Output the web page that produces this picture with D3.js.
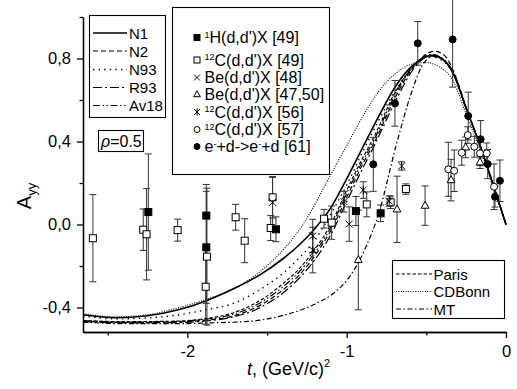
<!DOCTYPE html>
<html><head><meta charset="utf-8">
<script src="https://cdn.jsdelivr.net/npm/d3@7"></script>
<style>body{margin:0;background:#fff}svg{display:block}text{font-family:"Liberation Sans",Arial,sans-serif;fill:#000}</style>
</head><body><svg id="c" width="517" height="389"></svg>
<script>
// ---------- data ----------
const xMajorTicks=[-2,-1,0];
const xMinorTicks=[-2.5,-1.5,-0.5];
const yMajorTicks=[-0.4,0,0.4,0.8];
const yMinorTicks=[-0.2,0.2,0.6,1.0];

const modelNames=["N1","N2","N93","R93","Av18"];
const potentialNames=["Paris","CDBonn","MT"];
const rhoLabel="0.5";

const curveN1=[[-2.655,-0.435],[-2.45,-0.449],[-2.25,-0.44],[-2.05,-0.41],[-1.88,-0.367],[-1.71,-0.31],[-1.55,-0.245],[-1.4,-0.165],[-1.3,-0.1],[-1.2,-0.02],[-1.1,0.08],[-1.0,0.22],[-0.9,0.37],[-0.8,0.52],[-0.69,0.67],[-0.58,0.77],[-0.46,0.815],[-0.38,0.785],[-0.33,0.725],[-0.25,0.56],[-0.16,0.375],[-0.08,0.19],[0,0]];
const curveN2=[[-2.655,-0.466],[-2.4,-0.472],[-2.1,-0.47],[-1.9,-0.462],[-1.71,-0.44],[-1.6,-0.41],[-1.5,-0.37],[-1.4,-0.315],[-1.3,-0.245],[-1.2,-0.15],[-1.1,-0.03],[-1.0,0.13],[-0.9,0.29],[-0.83,0.39],[-0.69,0.62],[-0.58,0.76],[-0.45,0.835],[-0.38,0.81],[-0.33,0.74],[-0.25,0.565],[-0.16,0.375],[-0.08,0.19],[0,0]];
const curveN93=[[-2.655,-0.44],[-2.45,-0.455],[-2.25,-0.45],[-2.05,-0.435],[-1.88,-0.41],[-1.71,-0.38],[-1.55,-0.316],[-1.4,-0.235],[-1.3,-0.163],[-1.2,-0.075],[-1.1,0.05],[-1.0,0.19],[-0.9,0.35],[-0.8,0.5],[-0.69,0.65],[-0.58,0.76],[-0.48,0.81],[-0.4,0.79],[-0.33,0.725],[-0.25,0.56],[-0.16,0.375],[-0.08,0.19],[0,0]];
const curveR93=[[-2.655,-0.468],[-2.4,-0.474],[-2.1,-0.473],[-1.9,-0.466],[-1.71,-0.445],[-1.6,-0.42],[-1.5,-0.382],[-1.4,-0.33],[-1.3,-0.26],[-1.2,-0.17],[-1.1,-0.05],[-1.0,0.11],[-0.9,0.27],[-0.83,0.375],[-0.69,0.6],[-0.58,0.75],[-0.47,0.815],[-0.4,0.8],[-0.33,0.73],[-0.25,0.56],[-0.16,0.375],[-0.08,0.19],[0,0]];
const curveAv18=[[-2.655,-0.464],[-2.4,-0.47],[-2.1,-0.468],[-1.9,-0.458],[-1.71,-0.432],[-1.6,-0.4],[-1.5,-0.357],[-1.4,-0.3],[-1.3,-0.23],[-1.2,-0.135],[-1.1,-0.015],[-1.0,0.15],[-0.9,0.305],[-0.83,0.405],[-0.69,0.635],[-0.58,0.765],[-0.47,0.82],[-0.4,0.8],[-0.33,0.73],[-0.25,0.56],[-0.16,0.375],[-0.08,0.19],[0,0]];
const curveParis=[[-2.655,-0.462],[-2.4,-0.468],[-2.1,-0.466],[-1.9,-0.455],[-1.71,-0.425],[-1.6,-0.39],[-1.5,-0.345],[-1.4,-0.285],[-1.3,-0.215],[-1.2,-0.12],[-1.1,0.0],[-1.0,0.165],[-0.9,0.32],[-0.83,0.42],[-0.69,0.645],[-0.58,0.765],[-0.48,0.815],[-0.4,0.795],[-0.33,0.73],[-0.25,0.56],[-0.16,0.375],[-0.08,0.19],[0,0]];
const curveCDBonn=[[-2.655,-0.43],[-2.45,-0.445],[-2.25,-0.435],[-2.05,-0.4],[-1.88,-0.36],[-1.71,-0.31],[-1.48,-0.185],[-1.27,0.005],[-1.1,0.24],[-1.0,0.38],[-0.9,0.52],[-0.8,0.64],[-0.69,0.73],[-0.58,0.775],[-0.5,0.78],[-0.42,0.76],[-0.33,0.69],[-0.25,0.53],[-0.16,0.355],[-0.08,0.18],[0,0]];
const curveMT=[[-2.655,-0.47],[-2.4,-0.478],[-2.1,-0.478],[-1.85,-0.474],[-1.6,-0.466],[-1.4,-0.438],[-1.19,-0.38],[-1.08,-0.33],[-0.98,-0.25],[-0.88,-0.11],[-0.8,0.05],[-0.69,0.38],[-0.6,0.62],[-0.53,0.76],[-0.46,0.81],[-0.4,0.795],[-0.33,0.73],[-0.25,0.56],[-0.16,0.375],[-0.08,0.19],[0,0]];

// points: [t, Ayy, error]
const dataH49=[[-2.245,0.06,0.28],[-1.881,0.043,0.15],[-1.881,-0.11,0.27],[-1.444,-0.023,0.06],[-0.942,0.065,0.07],[-0.787,0.054,0.04]];
const dataC49=[[-2.593,-0.066,0.21],[-2.277,-0.025,0.10],[-2.256,-0.047,0.22],[-2.061,-0.027,0.053],[-1.877,-0.155,0.33],[-1.885,-0.30,0.18],[-1.697,0.035,0.062],[-1.640,-0.078,0.106],[-1.465,0.131,0.10],[-1.477,-0.017,0.06],[-1.142,0.028,0.045],[-1.094,0.009,0.08],[-0.874,0.097,0.06],[-0.724,0.107,0.03],[-0.628,0.171,0.025]];
const dataBe48=[[-1.465,0.107,0.12],[-0.984,0.002,0.083]];
const dataBe4750=[[-0.684,0.073,0.16],[-0.508,0.091,0.095],[-0.927,-0.171,0.24],[-0.345,0.214,0.10],[-0.253,0.372,0.05],[-0.163,0.30,0.03]];
const dataC56=[[-0.655,0.282,0.02],[-0.733,0.113,0.025],[-0.896,0.166,0.04],[-1.017,0.11,0.05],[-1.213,-0.055,0.08],[-1.213,-0.123,0.11]];
const dataC57=[[-0.362,0.266,0.13],[-0.325,0.259,0.10],[-0.278,0.346,0.06],[-0.240,0.431,0.04],[-0.199,0.375,0.05],[-0.163,0.343,0.06],[-0.121,0.343,0.05],[-0.075,0.182,0.11]];
const dataE61=[[-0.554,0.873,0.105],[-0.335,0.892,0.23],[-0.697,0.584,0.11],[-0.833,0.29,0.13],[-0.237,0.523,0.115],[-0.159,0.411,0.09],[-0.115,0.291,0.07],[-0.038,0.211,0.10],[-0.069,0.134,0.05]];

const legendLabels=[
 [["1",1],["H(d,d')X [49]",0]],
 [["12",1],["C(d,d')X [49]",0]],
 [["Be(d,d')X [48]",0]],
 [["Be(d,d')X [47,50]",0]],
 [["12",1],["C(d,d')X [56]",0]],
 [["12",1],["C(d,d')X [57]",0]],
 [["e",0],["-",1],["+d->e",0],["-",1],["+d [61]",0]]
];

// ---------- chart ----------
const svg=d3.select("#c");
const L=83,R=506,T=17,B=332;
const x=d3.scaleLinear().domain([-2.655,0]).range([L,R]);
const y=d3.scaleLinear().domain([-0.518,1.0]).range([B,T]);

svg.append("defs").append("clipPath").attr("id","clip").append("rect").attr("x",L).attr("y",T-2).attr("width",R-L+2).attr("height",B-T+2);

const styles={
 N1:{dash:null,w:1.6},
 N2:{dash:"5,3",w:1.2},
 N93:{dash:"1.4,4.2",w:1.4},
 R93:{dash:"9,3,2,3",w:1.2},
 Av18:{dash:"7,2.5,1.5,2.5,1.5,2.5",w:1.2},
 Paris:{dash:"3.5,2",w:1.1},
 CDBonn:{dash:"1,1.4",w:1.1},
 MT:{dash:"5,2.5,1.5,2.5",w:1.2}
};
const curves=[["CDBonn",curveCDBonn],["N93",curveN93],["MT",curveMT],["R93",curveR93],["Av18",curveAv18],["Paris",curveParis],["N2",curveN2],["N1",curveN1]];
const line=d3.line().x(d=>x(d[0])).y(d=>y(d[1])).curve(d3.curveMonotoneX);
const gc=svg.append("g").attr("clip-path","url(#clip)");
curves.forEach(([n,data])=>{
  gc.append("path").attr("d",line(data)).attr("fill","none").attr("stroke","#000")
   .attr("stroke-width",styles[n].w).attr("stroke-dasharray",styles[n].dash);
});

// axes
const fmtX=d=>d===0?"0":String(d);
const fmtY=d=>d.toFixed(1).replace(".",",").replace("−","-");
svg.append("g").attr("transform",`translate(0,${B})`)
  .call(d3.axisBottom(x).tickValues(xMajorTicks).tickSize(6).tickSizeOuter(0).tickPadding(7).tickFormat(fmtX));
svg.append("g").attr("transform",`translate(0,${B})`)
  .call(d3.axisBottom(x).tickValues(xMinorTicks).tickSize(3.5).tickSizeOuter(0).tickFormat(""));
svg.append("g").attr("transform",`translate(${L},0)`)
  .call(d3.axisLeft(y).tickValues(yMajorTicks).tickSize(6).tickSizeOuter(0).tickPadding(6).tickFormat(fmtY));
svg.append("g").attr("transform",`translate(${L},0)`)
  .call(d3.axisLeft(y).tickValues(yMinorTicks).tickSize(3.5).tickSizeOuter(0).tickFormat(""));
svg.selectAll(".domain,.tick line").attr("stroke","#000").attr("stroke-width",1.3);
svg.selectAll(".tick text").style("font-size","16.5px").style("font-family","'Liberation Sans',Arial,sans-serif").attr("fill","#000");

// axis labels
const yl=svg.append("text").attr("transform","translate(31,196) rotate(-90)").attr("text-anchor","middle").style("font-size","20px");
yl.append("tspan").text("A");
yl.append("tspan").text("yy").style("font-size","13px").attr("dy",5);
const xl=svg.append("text").attr("x",247).attr("y",375).style("font-size","18px");
xl.append("tspan").text("t").style("font-style","italic");
xl.append("tspan").text(", (GeV/c)");
xl.append("tspan").text("2").style("font-size","11px").attr("dy",-8);

// markers
function marker(g,type,cx,cy,s){
  const h=s/2;
  if(type==="sqF"||type==="sqO"){
    g.append("rect").attr("x",cx-h).attr("y",cy-h).attr("width",s).attr("height",s)
     .attr("fill",type==="sqF"?"#000":"#fff").attr("stroke","#000").attr("stroke-width",1);
  } else if(type==="cross"||type==="star"){
    const p=g.append("path").attr("stroke","#000").attr("stroke-width",1).attr("fill","none");
    let d=`M${cx-h},${cy-h}L${cx+h},${cy+h}M${cx-h},${cy+h}L${cx+h},${cy-h}`;
    if(type==="star") d+=`M${cx},${cy-h-0.5}L${cx},${cy+h+0.5}`;
    p.attr("d",d);
  } else if(type==="tri"){
    const r=s*0.62;
    g.append("path").attr("d",`M${cx},${cy-r}L${cx+r*0.9},${cy+r*0.6}L${cx-r*0.9},${cy+r*0.6}Z`)
     .attr("fill","#fff").attr("stroke","#000").attr("stroke-width",1);
  } else if(type==="cirO"||type==="cirF"){
    g.append("circle").attr("cx",cx).attr("cy",cy).attr("r",h)
     .attr("fill",type==="cirF"?"#000":"#fff").attr("stroke","#000").attr("stroke-width",1);
  }
}
const sets=[["sqO",dataC49],["sqF",dataH49],["cross",dataBe48],["tri",dataBe4750],["star",dataC56],["cirO",dataC57],["cirF",dataE61]];
const ge=svg.append("g");
sets.forEach(([type,data])=>{
  data.forEach(([t,a,e])=>{
    const cx=x(t),y1=y(a+e),y2=y(a-e);
    ge.append("path").attr("d",`M${cx},${y1}L${cx},${y2}M${cx-3.5},${y1}L${cx+3.5},${y1}M${cx-3.5},${y2}L${cx+3.5},${y2}`)
      .attr("stroke","#333").attr("stroke-width",1).attr("fill","none");
  });
});
const gm=svg.append("g");
sets.forEach(([type,data])=>{
  data.forEach(([t,a])=>marker(gm,type,x(t),y(a),7));
});

// legend 1 (models)
const lg1=svg.append("g");
lg1.append("rect").attr("x",89.5).attr("y",15.5).attr("width",76).attr("height",102).attr("fill","#fff").attr("stroke","#000").attr("stroke-width",1.1);
const l1y=[33,51,69.5,87.5,105.5];
modelNames.forEach((n,i)=>{
  lg1.append("line").attr("x1",93).attr("x2",127).attr("y1",l1y[i]).attr("y2",l1y[i]).attr("stroke","#000")
    .attr("stroke-width",styles[n].w).attr("stroke-dasharray",styles[n].dash);
  lg1.append("text").attr("x",129).attr("y",l1y[i]+5.5).style("font-size","15px").text(n);
});
// rho box
svg.append("rect").attr("x",98.5).attr("y",130.5).attr("width",45).attr("height",21).attr("fill","#fff").attr("stroke","#000").attr("stroke-width",1.1);
const rt=svg.append("text").attr("x",101).attr("y",147).style("font-size","16px");
rt.append("tspan").text("ρ").style("font-style","italic");
rt.append("tspan").text("="+rhoLabel);

// legend 2 (data)
const lg2=svg.append("g");
lg2.append("rect").attr("x",172.5).attr("y",7.5).attr("width",157).attr("height",167).attr("fill","#fff").attr("stroke","#000").attr("stroke-width",1.1);
const l2y=[37.5,60,77.5,94.5,112,129.5,146.5];
const l2types=["sqF","sqO","cross","tri","star","cirO","cirF"];
legendLabels.forEach((segs,i)=>{
  marker(lg2,l2types[i],197,l2y[i],6);
  const tx=lg2.append("text").attr("x",204.5).attr("y",l2y[i]+5.5).style("font-size","16px");
  let shifted=false;
  segs.forEach(([s,sup])=>{
    const ts=tx.append("tspan").text(s);
    if(sup){ts.style("font-size","9px"); if(!shifted){ts.attr("dy",-5.5);shifted=true;}}
    else if(shifted){ts.attr("dy",5.5);shifted=false;}
  });
});

// legend 3 (potentials)
const lg3=svg.append("g");
lg3.append("rect").attr("x",392.5).attr("y",260.5).attr("width",112).attr("height",58).attr("fill","#fff").attr("stroke","#000").attr("stroke-width",1.1);
const l3y=[274,291.5,309];
potentialNames.forEach((n,i)=>{
  lg3.append("line").attr("x1",396).attr("x2",432).attr("y1",l3y[i]).attr("y2",l3y[i]).attr("stroke","#000")
    .attr("stroke-width",styles[n].w).attr("stroke-dasharray",styles[n].dash);
  lg3.append("text").attr("x",433.5).attr("y",l3y[i]+5.5).style("font-size","15px").text(n);
});
</script></body></html>
